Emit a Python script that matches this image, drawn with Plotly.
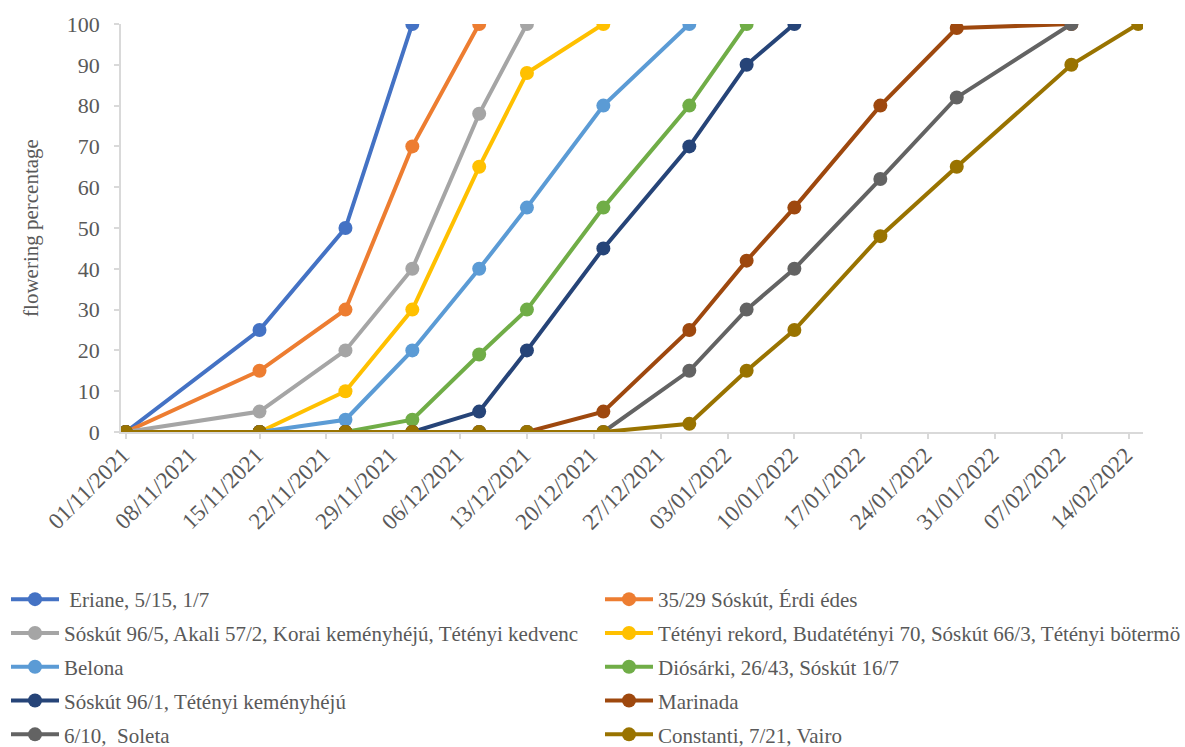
import datetime as dt
import plotly.graph_objects as go

# Observation dates
dates = ["2021-11-01", "2021-11-15", "2021-11-24", "2021-12-01", "2021-12-08",
         "2021-12-13", "2021-12-21", "2021-12-30", "2022-01-05", "2022-01-10",
         "2022-01-19", "2022-01-27", "2022-02-08", "2022-02-15"]

# Flowering percentage per variety group (series ends once 100 % is reached)
eriane = [0, 25, 50, 100]
soskut_35_29 = [0, 15, 30, 70, 100]
soskut_96_5 = [0, 5, 20, 40, 78, 100]
tetenyi_rekord = [0, 0, 10, 30, 65, 88, 100]
belona = [0, 0, 3, 20, 40, 55, 80, 100]
diosarki = [0, 0, 0, 3, 19, 30, 55, 80, 100]
soskut_96_1 = [0, 0, 0, 0, 5, 20, 45, 70, 90, 100]
marinada = [0, 0, 0, 0, 0, 0, 5, 25, 42, 55, 80, 99, 100]
soleta = [0, 0, 0, 0, 0, 0, 0, 15, 30, 40, 62, 82, 100]
constanti = [0, 0, 0, 0, 0, 0, 0, 2, 15, 25, 48, 65, 90, 100]

names = [" Eriane, 5/15, 1/7",
         "35/29 Sóskút, Érdi édes",
         "Sóskút 96/5, Akali 57/2, Korai keményhéjú, Tétényi kedvenc",
         "Tétényi rekord, Budatétényi 70, Sóskút 66/3, Tétényi bötermö",
         "Belona",
         "Diósárki, 26/43, Sóskút 16/7",
         "Sóskút 96/1, Tétényi keményhéjú",
         "Marinada",
         "6/10,  Soleta",
         "Constanti, 7/21, Vairo"]
series = [eriane, soskut_35_29, soskut_96_5, tetenyi_rekord, belona,
          diosarki, soskut_96_1, marinada, soleta, constanti]
colors = ["#4472C4", "#ED7D31", "#A5A5A5", "#FFC000", "#5B9BD5",
          "#70AD47", "#264478", "#9E480E", "#636363", "#997300"]

# Weekly axis labels
start = dt.date(2021, 11, 1)
tick_dates = [start + dt.timedelta(days=7 * k) for k in range(16)]
tick_text = [d.strftime("%d/%m/%Y") for d in tick_dates]

FONT = "Liberation Serif, Times New Roman, serif"
TXT = "#595959"
AXIS = "#D9D9D9"

fig = go.Figure()
for i, (name, vals, col) in enumerate(zip(names, series, colors)):
    fig.add_trace(go.Scatter(
        x=dates[:len(vals)], y=vals, name=name, mode="lines+markers",
        line=dict(color=col, width=4),
        marker=dict(color=col, size=14),
        legend="legend" if i % 2 == 0 else "legend2",
        legendgroup=f"g{i}",
    ))

# Legend boxes sit below the plot area (paper coordinates)
PLOT_H = 747 - 24 - 315
PLOT_W = 1185 - 121 - 42
legend_y = (432 - 579) / PLOT_H
legend_common = dict(
    orientation="v", xanchor="left", yanchor="top", y=legend_y,
    tracegroupgap=3.5, itemwidth=48,
    font=dict(family=FONT, size=21, color=TXT), bgcolor="rgba(0,0,0,0)",
)

fig.update_layout(
    width=1185, height=747,
    margin=dict(l=121, r=42, t=24, b=315, autoexpand=False),
    paper_bgcolor="white", plot_bgcolor="white",
    font=dict(family=FONT, color=TXT),
    showlegend=True,
    legend=dict(x=(6 - 121) / PLOT_W, **legend_common),
    legend2=dict(x=(600 - 121) / PLOT_W, **legend_common),
    xaxis=dict(
        type="date", automargin=False,
        range=["2021-10-31 12:00", "2022-02-15 12:00"],
        tickvals=[d.isoformat() for d in tick_dates], ticktext=tick_text,
        tickangle=-45, tickfont=dict(family=FONT, size=23, color=TXT),
        ticklabelstandoff=-6, ticklabelshift=-3,
        showgrid=False, zeroline=False,
        showline=True, linecolor=AXIS, linewidth=1.5,
        ticks="outside", ticklen=5, tickcolor=AXIS, tickwidth=1.5,
    ),
    yaxis=dict(
        range=[0, 100], tickvals=list(range(0, 101, 10)), automargin=False,
        tickfont=dict(family=FONT, size=22, color=TXT),
        ticklabelstandoff=10,
        showgrid=False, zeroline=False,
        showline=True, linecolor=AXIS, linewidth=1.5,
        ticks="outside", ticklen=5, tickcolor=AXIS, tickwidth=1.5,
        title=dict(text="flowering percentage", standoff=22,
                   font=dict(family=FONT, size=21, color=TXT)),
    ),
)

fig.write_html("out.html")
